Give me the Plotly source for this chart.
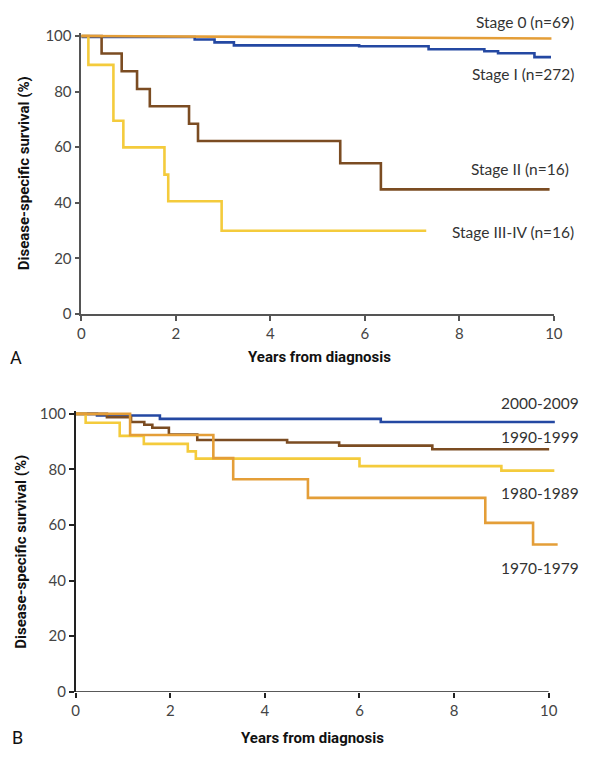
import plotly.graph_objects as go

# ---------------- Panel A: by stage ----------------
stage0_t = [0, 9.95]
stage0_s = [100, 99.1]
stage1_t = [0, 2.40, 2.82, 3.23, 5.88, 7.35, 8.53, 8.82, 9.59, 9.94]
stage1_s = [99.6, 98.7, 97.7, 96.6, 96.3, 95.2, 94.5, 93.8, 92.4, 92.4]
stage2_t = [0, 0.43, 0.855, 1.18, 1.45, 2.28, 2.47, 5.48, 6.34, 9.91]
stage2_s = [100, 93.7, 87.3, 80.9, 74.7, 68.4, 62.2, 54.2, 44.8, 44.8]
stage34_t = [0, 0.15, 0.68, 0.89, 1.76, 1.84, 2.97, 7.30]
stage34_s = [100, 89.6, 69.5, 59.9, 50.1, 40.5, 29.9, 29.9]

# ---------------- Panel B: by decade ----------------
d2000_t = [0, 0.45, 1.78, 6.45, 10.13]
d2000_s = [100, 99.4, 98.2, 97.1, 97.1]
d1990_t = [0, 0.66, 1.17, 1.45, 1.62, 1.97, 2.57, 4.47, 5.57, 7.54, 10.01]
d1990_s = [100, 98.8, 97.1, 96.1, 95.0, 92.6, 90.6, 89.7, 88.6, 87.3, 87.3]
d1980_t = [0, 0.21, 0.93, 1.44, 2.37, 2.54, 6.0, 9.0, 10.12]
d1980_s = [100, 96.8, 92.1, 89.2, 86.5, 83.9, 81.2, 79.6, 79.6]
d1970_t = [0, 1.15, 2.91, 3.33, 4.91, 8.66, 9.67, 10.19]
d1970_s = [100, 92.4, 84.1, 76.5, 69.8, 60.8, 53.0, 53.0]

x_ticks = [0, 2, 4, 6, 8, 10]
y_ticks = [0, 20, 40, 60, 80, 100]

BLUE = "#2448A2"
BROWN = "#7B4C22"
YELLOW = "#F4CB3C"
ORANGE = "#E49E38"

W, H = 600, 765
fig = go.Figure()

def add(t, s, color, xa, ya, shape="hv"):
    fig.add_trace(go.Scatter(x=t, y=s, mode="lines", xaxis=xa, yaxis=ya,
                             line=dict(color=color, width=2.6, shape=shape),
                             showlegend=False, hoverinfo="skip"))

# Panel A
add(stage1_t, stage1_s, BLUE, "x", "y")
add(stage2_t, stage2_s, BROWN, "x", "y")
add(stage34_t, stage34_s, YELLOW, "x", "y")
add(stage0_t, stage0_s, ORANGE, "x", "y", shape="linear")
# Panel B
add(d2000_t, d2000_s, BLUE, "x2", "y2")
add(d1990_t, d1990_s, BROWN, "x2", "y2")
add(d1980_t, d1980_s, YELLOW, "x2", "y2")
add(d1970_t, d1970_s, ORANGE, "x2", "y2")

tickfont = dict(family="Lato", size=15, color="#444")

def px(v):
    return v / W

def py(v):
    return 1 - v / H

axA = "#555"
axB = "#222"
common_x = dict(tickvals=x_ticks, ticks="outside", ticklen=5, tickwidth=1.5,
                showgrid=False, zeroline=False, tickfont=tickfont)
common_y = dict(tickvals=y_ticks, ticks="outside", ticklen=5, tickwidth=1.5,
                showgrid=False, zeroline=False, tickfont=tickfont, range=[0, 101])

fig.update_layout(
    autosize=True, margin=dict(l=0, r=0, t=0, b=0),
    paper_bgcolor="white", plot_bgcolor="white",
    xaxis=dict(domain=[px(79), px(562)], range=[0, 10], anchor="y",
               showline=True, linecolor=axA, linewidth=1.5, tickcolor=axA, **common_x),
    yaxis=dict(domain=[py(313), py(26.7)], anchor="x",
               showline=True, linecolor=axA, linewidth=1.5, tickcolor=axA, **common_y),
    xaxis2=dict(domain=[px(73.3), px(566.4)], range=[0, 10.2], anchor="y2",
                showline=False, tickcolor=axB, **common_x),
    yaxis2=dict(domain=[py(698.5), py(412.2)], anchor="x2",
                showline=True, linecolor=axB, linewidth=1.5, tickcolor=axB, **common_y),
)

# x-axis line for panel B spanning 0..10 only
fig.add_shape(type="line", xref="x2", yref="y2", x0=0, x1=10, y0=0, y1=0,
              line=dict(color=axB, width=1.5))

labfont = dict(family="Lato", size=15.5, color="#333")
labels = [
    ("Stage 0 (n=69)", 585, 15),
    ("Stage I (n=272)", 585, 68),
    ("Stage II (n=16)", 580, 165),
    ("Stage III-IV (n=16)", 585, 229),
    ("2000-2009", 590, 404),
    ("1990-1999", 590, 439),
    ("1980-1989", 590, 496),
    ("1970-1979", 590, 572),
]
for txt, xr, yc in labels:
    fig.add_annotation(text=txt, x=px(xr), y=py(yc), xref="paper", yref="paper",
                       xanchor="right", yanchor="middle", showarrow=False, font=labfont)

titlefont = dict(family="Roboto", size=15, color="#111", weight="bold")
fig.add_annotation(text="<b>Years from diagnosis</b>", x=px(322), y=py(357), xref="paper",
                   yref="paper", showarrow=False, xanchor="center", yanchor="middle", font=titlefont)
fig.add_annotation(text="<b>Years from diagnosis</b>", x=px(315), y=py(746), xref="paper",
                   yref="paper", showarrow=False, xanchor="center", yanchor="middle", font=titlefont)
fig.add_annotation(text="<b>Disease-specific survival (%)</b>", x=px(20), y=py(170), xref="paper",
                   yref="paper", showarrow=False, textangle=-90, xanchor="center", yanchor="middle",
                   font=titlefont)
fig.add_annotation(text="<b>Disease-specific survival (%)</b>", x=px(17), y=py(556), xref="paper",
                   yref="paper", showarrow=False, textangle=-90, xanchor="center", yanchor="middle",
                   font=titlefont)

letterfont = dict(family="Roboto", size=18, color="#111")
fig.add_annotation(text="A", x=px(12), y=py(357), xref="paper", yref="paper", showarrow=False,
                   xanchor="center", yanchor="middle", font=letterfont)
fig.add_annotation(text="B", x=px(14), y=py(745), xref="paper", yref="paper", showarrow=False,
                   xanchor="center", yanchor="middle", font=letterfont)

# fill the browser window exactly (no default page margin, no scrollbars, no modebar)
fig.write_html("out.html",
               default_width="100vw", default_height="100vh",
               config={"displayModeBar": False, "responsive": True},
               post_script="document.body.style.margin='0';document.body.style.overflow='hidden';"
                           "window.dispatchEvent(new Event('resize'));")
